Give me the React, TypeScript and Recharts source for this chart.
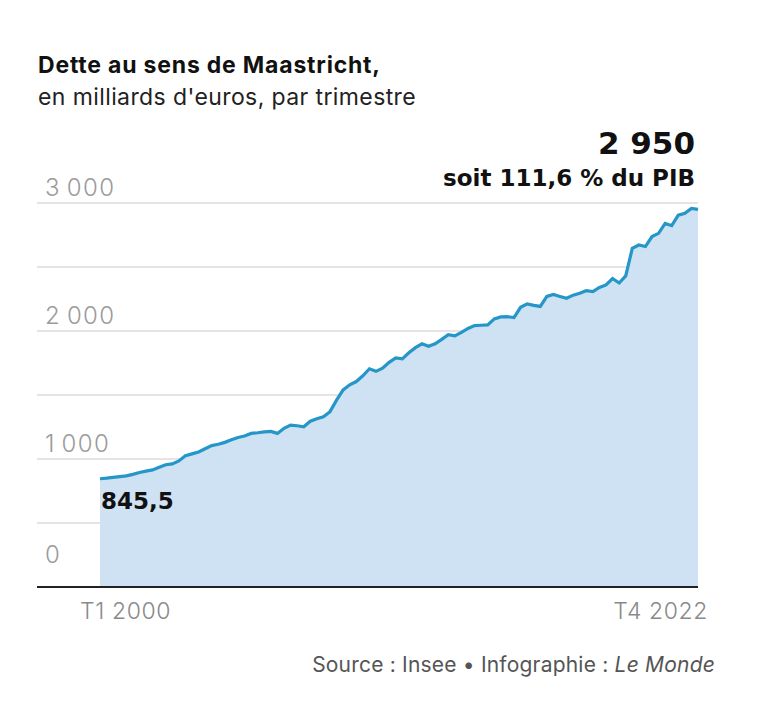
import React from 'react'
import { AreaChart, Area, XAxis, YAxis, CartesianGrid, LabelList } from 'recharts'

const startYear = 2000
const endYear = 2022

// Dette au sens de Maastricht, milliards d'euros, T1 2000 -> T4 2022
const dette = [
  845.5, 850, 856, 862, 868, 880, 895, 905, 915, 935, 955, 962,
  985, 1025, 1040, 1055, 1080, 1105, 1115, 1130, 1150, 1168, 1180, 1200,
  1205, 1212, 1215, 1200, 1240, 1265, 1260, 1252, 1295, 1315, 1330, 1370,
  1460, 1540, 1580, 1605, 1650, 1705, 1685, 1710, 1755, 1790, 1782, 1830,
  1870, 1900, 1880, 1900, 1935, 1972, 1962, 1990, 2020, 2042, 2045, 2048,
  2095, 2110, 2112, 2105, 2185, 2212, 2200, 2192, 2270, 2285, 2270, 2256,
  2280, 2295, 2315, 2308, 2340, 2360, 2410, 2375, 2430, 2645, 2672, 2660,
  2738, 2763, 2840, 2823, 2905, 2920, 2958, 2950,
]

const yTicks = [0, 500, 1000, 1500, 2000, 2500, 3000]
const labelledTicks = [0, 1000, 2000, 3000]

const trimestres: string[] = []
for (let y = startYear; y <= endYear; y++) {
  for (let q = 1; q <= 4; q++) trimestres.push(`T${q} ${y}`)
}

const data = trimestres.map((t, i) => ({ t, dette: dette[i] }))
const xTicks = [trimestres[0], trimestres[trimestres.length - 1]]

const FONT = 'Inter, Roboto, sans-serif'
const HEAVY = '"DejaVu Sans", Inter, sans-serif'
const fmt = (v: number) => (v >= 1000 ? `${Math.floor(v / 1000)}\u2009${String(v % 1000).padStart(3, '0')}` : String(v))

const YTick = ({ y, payload }: any) => {
  if (!labelledTicks.includes(payload.value)) return <g />
  return (
    <text x={45} y={y + (payload.value === 0 ? -24 : -7)} fill="#9b9b9b" fontSize={24} fontWeight={300} letterSpacing={1.4} fontFamily={FONT}>
      {fmt(payload.value)}
    </text>
  )
}

const XTick = ({ x, y, payload, index }: any) => {
  const first = index === 0
  return (
    <text x={first ? x - 20 : x + 10} y={y + 24} textAnchor={first ? 'start' : 'end'} fill="#8a8a8a" fontSize={23} fontWeight={300} letterSpacing={0.6} fontFamily={FONT}>
      {payload.value}
    </text>
  )
}

const EndLabels = ({ x, y, index }: any) => {
  if (index === 0) {
    return (
      <text x={x + 1} y={y + 30} fill="#111" fontSize={23} fontWeight={700} fontFamily={HEAVY}>
        845,5
      </text>
    )
  }
  if (index === dette.length - 1) {
    return (
      <g fontFamily={HEAVY} fill="#111" textAnchor="end" fontWeight={700}>
        <text x={x - 3} y={y - 55} fontSize={31}>2 950</text>
        <text x={x - 3} y={y - 23} fontSize={23}>soit 111,6 % du PIB</text>
      </g>
    )
  }
  return null
}

export default function App() {
  return (
    <div style={{ position: 'absolute', left: 0, top: 0, width: 766, height: 704, background: '#fff' }}>
      <AreaChart width={766} height={704} data={data} margin={{ top: 203, right: 68, bottom: 87, left: 36 }}>
        <CartesianGrid vertical={false} stroke="#c9c9c9" />
        <XAxis
          dataKey="t"
          ticks={xTicks}
          interval={0}
          height={30}
          padding={{ left: 63, right: 0 }}
          axisLine={{ stroke: '#222', strokeWidth: 2 }}
          tickLine={false}
          tick={<XTick />}
        />
        <YAxis domain={[0, 3000]} ticks={yTicks} width={1} axisLine={false} tickLine={false} tick={<YTick />} />
        <Area
          type="linear"
          dataKey="dette"
          stroke="#2596c8"
          strokeWidth={3.2}
          fill="#cfe2f3"
          fillOpacity={1}
          isAnimationActive={false}
        >
          <LabelList dataKey="dette" content={<EndLabels />} />
        </Area>
      </AreaChart>
      <svg width={766} height={704} style={{ position: 'absolute', left: 0, top: 0, pointerEvents: 'none' }}>
        <text x={38} y={73} fontFamily={FONT} fontSize={23} fontWeight={700} letterSpacing={0.8} fill="#111">
          Dette au sens de Maastricht,
        </text>
        <text x={38} y={105} fontFamily={FONT} fontSize={23} letterSpacing={0.4} fill="#222">
          en milliards d'euros, par trimestre
        </text>
        <text x={715} y={672} textAnchor="end" fontFamily={FONT} fontSize={21} letterSpacing={0.2} fill="#555">
          Source : Insee • Infographie : <tspan fontStyle="italic">Le Monde</tspan>
        </text>
      </svg>
    </div>
  )
}
